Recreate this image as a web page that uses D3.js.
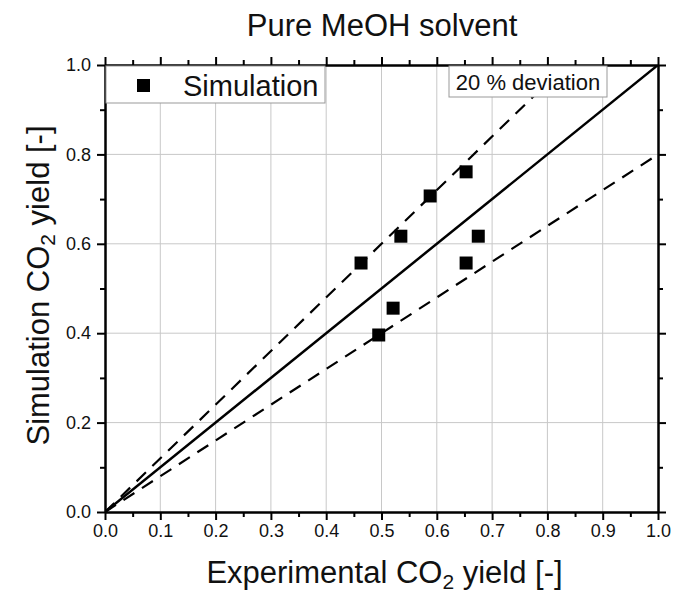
<!DOCTYPE html>
<html>
<head>
<meta charset="utf-8">
<script src="https://cdn.jsdelivr.net/npm/d3@7"></script>
<style>
  body { margin: 0; background: #fff; }
  svg { font-family: "Liberation Sans", Arial, sans-serif; }
</style>
</head>
<body>
<svg id="chart" width="674" height="593"></svg>
<script>
// data
var expYield = [0.463, 0.495, 0.521, 0.535, 0.588, 0.653, 0.653, 0.675];
var simYield = [0.557, 0.396, 0.456, 0.617, 0.707, 0.761, 0.557, 0.617];
var xTicks = [0, 0.1, 0.2, 0.3, 0.4, 0.5, 0.6, 0.7, 0.8, 0.9, 1.0];
var yTicks = [0, 0.2, 0.4, 0.6, 0.8, 1.0];
var deviation = 0.2;

var svg = d3.select("#chart"),
    margin = {top: 65, right: 16, bottom: 81, left: 105},
    width = +svg.attr("width") - margin.left - margin.right,
    height = +svg.attr("height") - margin.top - margin.bottom;

var x = d3.scaleLinear().domain([0, 1]).range([0, width]),
    y = d3.scaleLinear().domain([0, 1]).range([height, 0]);

var g = svg.append("g")
    .attr("transform", "translate(" + margin.left + "," + margin.top + ")");

// grid
g.append("g").selectAll("line")
    .data(xTicks.slice(1, -1))
    .enter().append("line")
    .attr("x1", function (d) { return x(d); })
    .attr("x2", function (d) { return x(d); })
    .attr("y1", 0).attr("y2", height)
    .attr("stroke", "#c8c8c8").attr("stroke-width", 1);

g.append("g").selectAll("line")
    .data(yTicks.slice(1, -1))
    .enter().append("line")
    .attr("y1", function (d) { return y(d); })
    .attr("y2", function (d) { return y(d); })
    .attr("x1", 0).attr("x2", width)
    .attr("stroke", "#c8c8c8").attr("stroke-width", 1);

// lines
svg.append("clipPath").attr("id", "clip")
    .append("rect").attr("width", width).attr("height", height);

var lineGen = d3.line()
    .x(function (d) { return x(d[0]); })
    .y(function (d) { return y(d[1]); });

var lines = g.append("g").attr("clip-path", "url(#clip)");

lines.append("path")
    .datum([[0, 0], [1, 1]])
    .attr("d", lineGen)
    .attr("fill", "none").attr("stroke", "#000").attr("stroke-width", 2.5);

[1 + deviation, 1 - deviation].forEach(function (f) {
    lines.append("path")
        .datum([[0, 0], [1, f]])
        .attr("d", lineGen)
        .attr("fill", "none").attr("stroke", "#000").attr("stroke-width", 2.2)
        .attr("stroke-dasharray", "13,9");
});

// points
g.selectAll(".pt")
    .data(expYield)
    .enter().append("rect")
    .attr("class", "pt")
    .attr("x", function (d) { return x(d) - 6.5; })
    .attr("y", function (d, i) { return y(simYield[i]) - 6.5; })
    .attr("width", 13).attr("height", 13)
    .attr("fill", "#000");

// axes
function styleAxis(sel) {
    sel.attr("font-size", null).attr("font-family", null);
    sel.select(".domain").attr("stroke-width", 2);
    sel.selectAll(".tick line").attr("stroke-width", 2);
    sel.selectAll("text")
        .style("font-size", "18px")
        .style("font-family", "'Liberation Sans', Arial, sans-serif")
        .attr("fill", "#111");
}

var fmt = d3.format(".1f");

g.append("g")
    .attr("transform", "translate(0," + height + ")")
    .call(d3.axisBottom(x).tickValues(d3.range(0.05, 1, 0.1)).tickSize(5).tickFormat("").tickSizeOuter(0))
    .call(styleAxis);
g.append("g")
    .attr("transform", "translate(0," + height + ")")
    .call(d3.axisBottom(x).tickValues(xTicks).tickSize(8).tickPadding(4).tickFormat(fmt).tickSizeOuter(0))
    .call(styleAxis);

g.append("g")
    .call(d3.axisLeft(y).tickValues(d3.range(0.1, 1, 0.2)).tickSize(5).tickFormat("").tickSizeOuter(0))
    .call(styleAxis);
g.append("g")
    .call(d3.axisLeft(y).tickValues(yTicks).tickSize(8).tickPadding(6).tickFormat(fmt).tickSizeOuter(0))
    .call(styleAxis);

// mirror axes
g.append("g")
    .call(d3.axisTop(x).tickValues(d3.range(0.05, 1, 0.1)).tickSize(5).tickFormat("").tickSizeOuter(0))
    .call(styleAxis);
g.append("g")
    .call(d3.axisTop(x).tickValues(xTicks).tickSize(8).tickFormat("").tickSizeOuter(0))
    .call(styleAxis);
g.append("g")
    .attr("transform", "translate(" + width + ",0)")
    .call(d3.axisRight(y).tickValues(d3.range(0.1, 1, 0.2)).tickSize(5).tickFormat("").tickSizeOuter(0))
    .call(styleAxis);
g.append("g")
    .attr("transform", "translate(" + width + ",0)")
    .call(d3.axisRight(y).tickValues(yTicks).tickSize(8).tickFormat("").tickSizeOuter(0))
    .call(styleAxis);

// legend
var leg = g.append("g");
leg.append("rect")
    .attr("x", 1).attr("y", 1).attr("width", 219).attr("height", 37)
    .attr("fill", "#fff").attr("stroke", "#999").attr("stroke-width", 1);
leg.append("rect")
    .attr("x", 32).attr("y", 14).attr("width", 13).attr("height", 13)
    .attr("fill", "#000");
leg.append("text")
    .attr("x", 78).attr("y", 31)
    .attr("font-size", 29).attr("fill", "#111")
    .text("Simulation");

// deviation label
var dev = g.append("g");
dev.append("rect")
    .attr("x", 344).attr("y", 1).attr("width", 158).attr("height", 31)
    .attr("fill", "#fff").attr("stroke", "#999").attr("stroke-width", 1);
dev.append("text")
    .attr("x", 423).attr("y", 25)
    .attr("text-anchor", "middle")
    .attr("font-size", 22).attr("fill", "#111")
    .text("20 % deviation");

// title and axis labels
svg.append("text")
    .attr("x", 382).attr("y", 36)
    .attr("text-anchor", "middle")
    .attr("font-size", 31).attr("fill", "#111")
    .text("Pure MeOH solvent");

var xl = svg.append("text")
    .attr("x", margin.left + width / 2 + 3).attr("y", 583)
    .attr("text-anchor", "middle")
    .attr("font-size", 31).attr("fill", "#111");
xl.append("tspan").text("Experimental CO");
xl.append("tspan").attr("font-size", 21).attr("dy", 6).text("2");
xl.append("tspan").attr("dy", -6).text(" yield [-]");

var yl = svg.append("text")
    .attr("transform", "translate(49," + (margin.top + height / 2 - 3) + ") rotate(-90)")
    .attr("text-anchor", "middle")
    .attr("font-size", 31).attr("fill", "#111");
yl.append("tspan").text("Simulation CO");
yl.append("tspan").attr("font-size", 21).attr("dy", 6).text("2");
yl.append("tspan").attr("dy", -6).text(" yield [-]");
</script>
</body>
</html>
